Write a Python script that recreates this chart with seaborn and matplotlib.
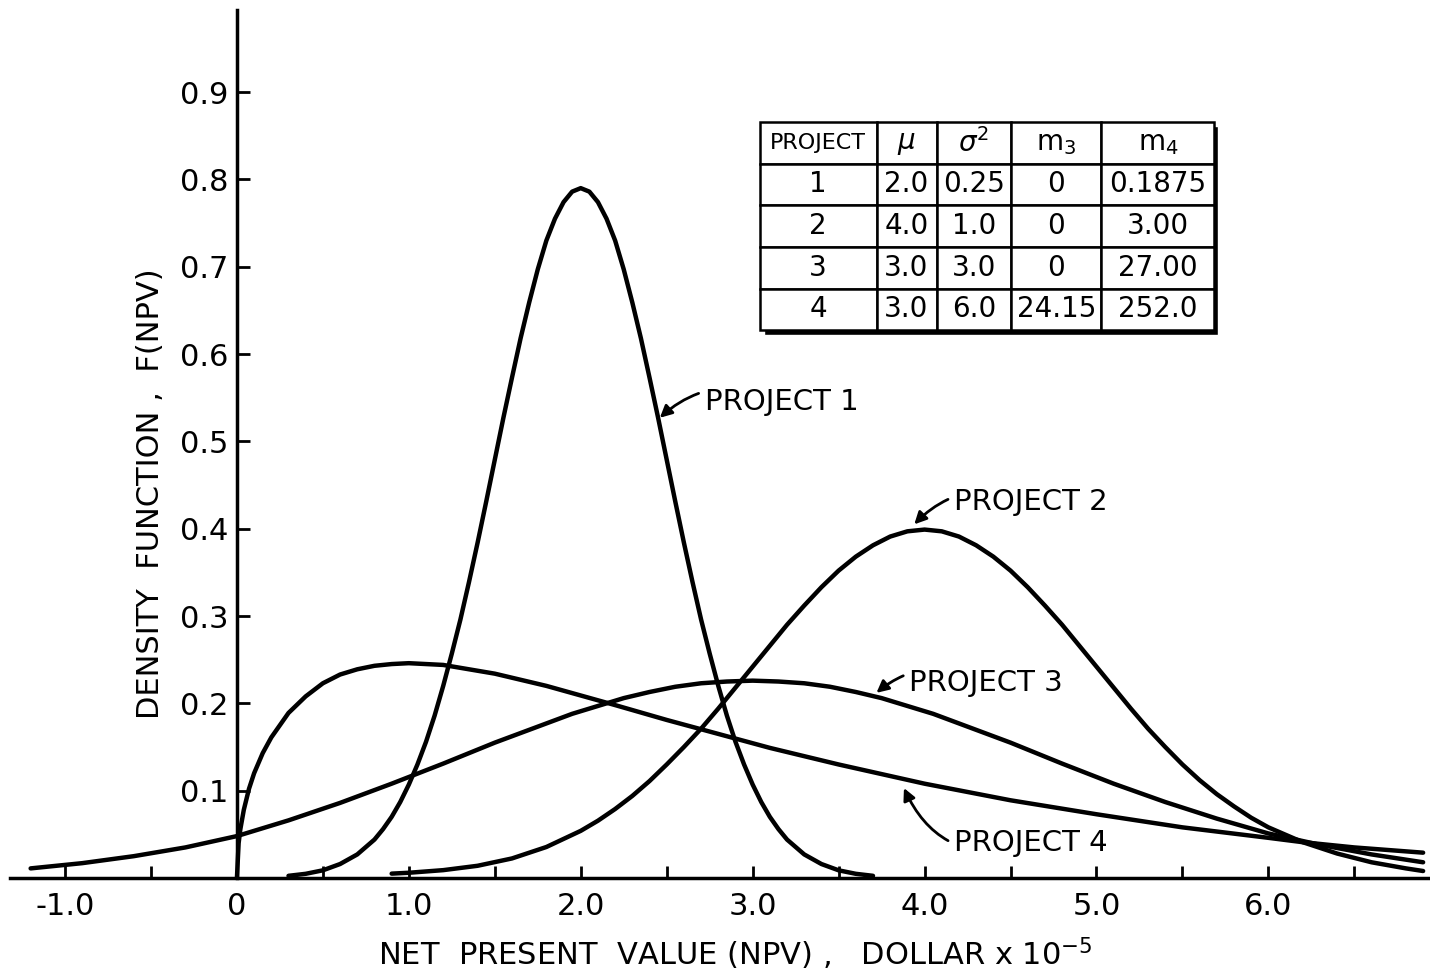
import pandas as pd
import seaborn as sns
import matplotlib
matplotlib.use('Agg')
import matplotlib.pyplot as plt
from matplotlib.patches import Rectangle

# values
p1_x = [0.3, 0.4, 0.5, 0.6, 0.7, 0.8, 0.85, 0.9, 0.95, 1.0, 1.05, 1.1, 1.15, 1.2, 1.25, 1.3, 1.35,
        1.4, 1.45, 1.5, 1.55, 1.6, 1.65, 1.7, 1.75, 1.8, 1.85, 1.9, 1.95, 2.0,
        2.05, 2.1, 2.15, 2.2, 2.25, 2.3, 2.35, 2.4, 2.45, 2.5, 2.55, 2.6, 2.65, 2.7, 2.75, 2.8,
        2.85, 2.9, 2.95, 3.0, 3.05, 3.1, 3.15, 3.2, 3.3, 3.4, 3.5, 3.6, 3.7]
p1_y = [0.0025, 0.0048, 0.0088, 0.016, 0.027, 0.044, 0.056, 0.070, 0.087, 0.107, 0.130, 0.156,
        0.186, 0.220, 0.257, 0.296, 0.339, 0.384, 0.431, 0.479, 0.527, 0.573, 0.618, 0.659, 0.697,
        0.730, 0.755, 0.774, 0.786, 0.790,
        0.786, 0.774, 0.755, 0.730, 0.697, 0.659, 0.618, 0.573, 0.527, 0.479, 0.431, 0.384, 0.339,
        0.296, 0.257, 0.220, 0.186, 0.156, 0.130, 0.107, 0.087, 0.070, 0.056, 0.044, 0.027, 0.016,
        0.0088, 0.0048, 0.0025]

p2_x = [0.9, 1.0, 1.2, 1.4, 1.6, 1.8, 2.0, 2.1, 2.2, 2.3, 2.4, 2.5, 2.6, 2.7, 2.8, 2.9, 3.0, 3.1,
        3.2, 3.3, 3.4, 3.5, 3.6, 3.7, 3.8, 3.9, 4.0, 4.1, 4.2, 4.3, 4.4, 4.5, 4.6, 4.7, 4.8, 4.9,
        5.0, 5.1, 5.2, 5.3, 5.4, 5.5, 5.6, 5.7, 5.8, 5.9, 6.0, 6.2, 6.4, 6.6, 6.8, 6.9]
p2_y = [0.005, 0.006, 0.009, 0.014, 0.0224, 0.0355, 0.054, 0.0656, 0.079, 0.094, 0.111, 0.130,
        0.150, 0.171, 0.194, 0.218, 0.242, 0.266, 0.290, 0.312, 0.333, 0.352, 0.368, 0.381, 0.391,
        0.397, 0.399, 0.397, 0.391, 0.381, 0.368, 0.352, 0.333, 0.312, 0.290, 0.266, 0.242, 0.218,
        0.194, 0.171, 0.150, 0.130, 0.112, 0.096, 0.082, 0.069, 0.058, 0.041, 0.028, 0.018, 0.011,
        0.008]

p3_x = [-1.2, -0.9, -0.6, -0.3, 0.0, 0.3, 0.6, 0.9, 1.2, 1.5, 1.8, 1.95, 2.1, 2.25, 2.4, 2.55,
        2.7, 2.85, 3.0, 3.15, 3.3, 3.45, 3.6, 3.75, 3.9, 4.05, 4.2, 4.5, 4.8, 5.1, 5.4, 5.7, 6.0,
        6.3, 6.6, 6.9]
p3_y = [0.011, 0.017, 0.025, 0.035, 0.048, 0.066, 0.086, 0.108, 0.131, 0.155, 0.177, 0.188,
        0.197, 0.206, 0.213, 0.219, 0.223, 0.225, 0.226, 0.225, 0.223, 0.219, 0.213, 0.206, 0.197,
        0.188, 0.177, 0.155, 0.131, 0.108, 0.087, 0.068, 0.051, 0.038, 0.027, 0.018]

p4_x = [0.0, 0.01, 0.02, 0.04, 0.07, 0.1, 0.15, 0.2, 0.3, 0.4, 0.5, 0.6, 0.7, 0.8, 0.9, 1.0, 1.1,
        1.2, 1.35, 1.5, 1.65, 1.8, 2.0, 2.2, 2.5, 2.8, 3.1, 3.5, 4.0, 4.5, 5.0, 5.5, 6.0, 6.2, 6.5,
        6.9]
p4_y = [0.0, 0.040, 0.056, 0.078, 0.102, 0.120, 0.143, 0.161, 0.189, 0.208, 0.223, 0.233, 0.239,
        0.243, 0.245, 0.246, 0.245, 0.244, 0.239, 0.234, 0.227, 0.220, 0.209, 0.198, 0.181, 0.165,
        0.149, 0.130, 0.108, 0.089, 0.073, 0.058, 0.046, 0.041, 0.035, 0.029]

x_major = [-1.0, 0.0, 1.0, 2.0, 3.0, 4.0, 5.0, 6.0]
x_labels = ['-1.0', '0', '1.0', '2.0', '3.0', '4.0', '5.0', '6.0']
x_minor = [-0.5, 0.5, 1.5, 2.5, 3.5, 4.5, 5.5, 6.5]
y_ticks = [0.1, 0.2, 0.3, 0.4, 0.5, 0.6, 0.7, 0.8, 0.9]
y_labels = ['0.1', '0.2', '0.3', '0.4', '0.5', '0.6', '0.7', '0.8', '0.9']

table_header = ['PROJECT', r'$\mu$', r'$\sigma^2$', r'm$_3$', r'm$_4$']
table_rows = [['1', '2.0', '0.25', '0', '0.1875'],
              ['2', '4.0', '1.0', '0', '3.00'],
              ['3', '3.0', '3.0', '0', '27.00'],
              ['4', '3.0', '6.0', '24.15', '252.0']]

sns.set_theme(style='white')
plt.rcParams['font.family'] = ['DejaVu Sans']
plt.rcParams['mathtext.fontset'] = 'dejavusans'
plt.rcParams.update({'text.color': 'black', 'axes.labelcolor': 'black',
                     'xtick.color': 'black', 'ytick.color': 'black'})

fig = plt.figure(figsize=(14.3, 9.8), dpi=100)
ax = fig.add_axes([10 / 1430, 102 / 980, 1420 / 1430, 868 / 980])

for xs, ys in [(p1_x, p1_y), (p2_x, p2_y), (p3_x, p3_y), (p4_x, p4_y)]:
    df = pd.DataFrame({'npv': xs, 'density': ys})
    sns.lineplot(data=df, x='npv', y='density', ax=ax, color='black', lw=3.2,
                 solid_joinstyle='round', solid_capstyle='round')

ax.set_xlim(-1.32, 6.94)
ax.set_ylim(0, 0.994)
ax.spines['left'].set_position(('data', 0))
ax.spines['bottom'].set_position(('data', 0))
ax.spines['top'].set_visible(False)
ax.spines['right'].set_visible(False)
for s in ['left', 'bottom']:
    ax.spines[s].set_linewidth(2.5)
    ax.spines[s].set_color('black')

ax.set_xticks(x_major)
ax.set_xticklabels(x_labels)
ax.set_xticks(x_minor, minor=True)
ax.set_yticks(y_ticks)
ax.set_yticklabels(y_labels)
ax.tick_params(axis='both', which='both', direction='in', length=9, width=2,
               color='black', labelcolor='black', bottom=True, left=True)
ax.tick_params(axis='x', labelsize=22, pad=10)
ax.tick_params(axis='y', labelsize=22, pad=6)

ax.set_xlabel(r'NET  PRESENT  VALUE (NPV) ,   DOLLAR x 10$^{-5}$', fontsize=22)
ax.xaxis.set_label_coords(0.511, -0.066)
ax.set_ylabel('DENSITY  FUNCTION ,  F(NPV)', fontsize=22)
ax.yaxis.set_label_coords(0.109, 0.443)

arrow = dict(arrowstyle='-|>', color='black', lw=2, shrinkA=2, shrinkB=0, mutation_scale=18)
ax.annotate('PROJECT 1', xy=(2.46, 0.527), xytext=(2.72, 0.545), fontsize=21, va='center',
            arrowprops=dict(arrow, connectionstyle='arc3,rad=0.35'))
ax.annotate('PROJECT 2', xy=(3.94, 0.405), xytext=(4.17, 0.431), fontsize=21, va='center',
            arrowprops=dict(arrow, connectionstyle='arc3,rad=0.35'))
ax.annotate('PROJECT 3', xy=(3.72, 0.212), xytext=(3.91, 0.223), fontsize=21, va='center',
            arrowprops=dict(arrow, connectionstyle='arc3,rad=0.35'))
ax.annotate('PROJECT 4', xy=(3.88, 0.103), xytext=(4.17, 0.040), fontsize=21, va='center',
            arrowprops=dict(arrow, connectionstyle='arc3,rad=-0.45'))

# parameter table with a drop shadow
tb = [0.528, 0.631, 0.320, 0.240]
ax.add_patch(Rectangle((tb[0] + 0.003, tb[1] - 0.005), tb[2], tb[3], transform=ax.transAxes,
                       facecolor='black', zorder=4))
tbl = ax.table(cellText=table_rows, colLabels=table_header,
               colWidths=[0.257, 0.132, 0.165, 0.198, 0.248], cellLoc='center', bbox=tb)
tbl.set_zorder(5)
tbl.auto_set_font_size(False)
tbl.set_fontsize(20)
for (r, c), cell in tbl.get_celld().items():
    cell.set_linewidth(1.8)
    cell.set_edgecolor('black')
    cell.set_facecolor('white')
    cell.get_text().set_color('black')
tbl[0, 0].set_fontsize(16)

fig.savefig('out.png', dpi=100)
